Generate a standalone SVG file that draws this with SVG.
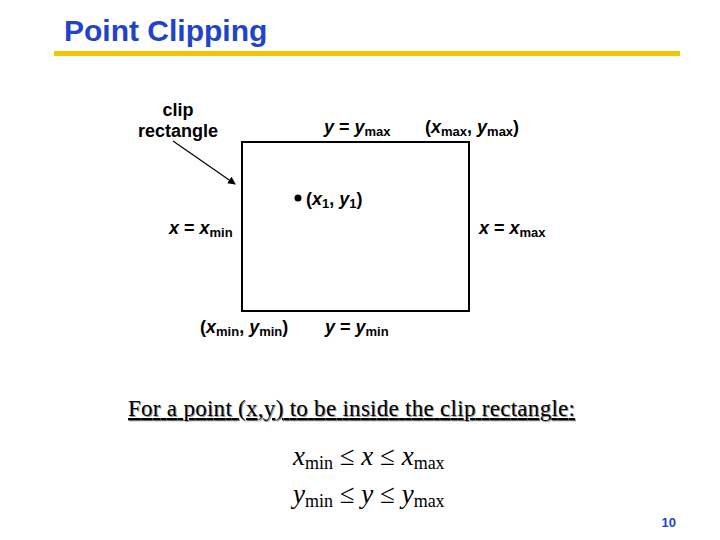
<svg xmlns="http://www.w3.org/2000/svg" width="720" height="540" viewBox="0 0 720 540">
<style>
.t{font-family:"Liberation Sans",Arial,sans-serif;font-weight:bold;font-size:18px;fill:#000}
.i{font-style:italic}
.s{font-size:13px;font-style:normal}
.m{font-family:"Liberation Serif","Times New Roman",serif;font-size:27px;font-style:italic;fill:#000}
.ms{font-size:18px;font-style:normal}
.n{font-style:normal}
</style>
<defs><marker id="ah" markerWidth="8" markerHeight="8" refX="7" refY="4" orient="auto" markerUnits="userSpaceOnUse"><path d="M0,0 L8,4 L0,8 z" fill="#000"/></marker></defs>
<rect width="720" height="540" fill="#fff"/>
<text x="64" y="41" style="font-family:'Liberation Sans',Arial,sans-serif;font-weight:bold;font-size:30px;fill:#1f44c8">Point Clipping</text>
<rect x="54" y="51" width="626" height="5" fill="#f2c500"/>
<g id="clip-rect"><rect x="242" y="142" width="227" height="169" fill="none" stroke="#000" stroke-width="2"/></g>
<g id="connectors"><line x1="173" y1="141" x2="235" y2="184" stroke="#000" stroke-width="1.2" marker-end="url(#ah)"/></g>
<g id="label-clip"><text class="t" x="178" y="116" text-anchor="middle">clip</text><text class="t" x="178" y="137" text-anchor="middle">rectangle</text></g>
<g id="label-ymax"><text class="t" x="324" y="133"><tspan class="i">y</tspan> = <tspan class="i">y</tspan><tspan class="s" dy="3">max</tspan></text></g>
<g id="label-corner-max"><text class="t" x="425" y="133">(<tspan class="i">x</tspan><tspan class="s" dy="3">max</tspan><tspan dy="-3">, </tspan><tspan class="i">y</tspan><tspan class="s" dy="3">max</tspan><tspan dy="-3">)</tspan></text></g>
<g id="point"><circle cx="298" cy="198" r="3.5" fill="#000"/><text class="t" x="306" y="205">(<tspan class="i">x</tspan><tspan class="s" dy="3">1</tspan><tspan dy="-3">, </tspan><tspan class="i">y</tspan><tspan class="s" dy="3">1</tspan><tspan dy="-3">)</tspan></text></g>
<g id="label-xmin"><text class="t" x="169" y="234"><tspan class="i">x</tspan> = <tspan class="i">x</tspan><tspan class="s" dy="3">min</tspan></text></g>
<g id="label-xmax"><text class="t" x="479" y="234"><tspan class="i">x</tspan> = <tspan class="i">x</tspan><tspan class="s" dy="3">max</tspan></text></g>
<g id="label-corner-min"><text class="t" x="200" y="333">(<tspan class="i">x</tspan><tspan class="s" dy="3">min</tspan><tspan dy="-3">, </tspan><tspan class="i">y</tspan><tspan class="s" dy="3">min</tspan><tspan dy="-3">)</tspan></text></g>
<g id="label-ymin"><text class="t" x="325" y="333"><tspan class="i">y</tspan> = <tspan class="i">y</tspan><tspan class="s" dy="3">min</tspan></text></g>
<text x="128" y="416" textLength="447" style="font-family:'Liberation Serif','Times New Roman',serif;font-size:23px;fill:#999" dx="1" dy="1" text-decoration="underline">For a point (x,y) to be inside the clip rectangle:</text>
<text x="128" y="416" textLength="447" style="font-family:'Liberation Serif','Times New Roman',serif;font-size:23px;fill:#000" text-decoration="underline">For a point (x,y) to be inside the clip rectangle:</text>
<text class="m" x="293" y="465">x<tspan class="ms" dy="4">min</tspan><tspan dy="-4" class="n">  ≤  </tspan>x<tspan class="n">  ≤  </tspan>x<tspan class="ms" dy="4">max</tspan></text>
<text class="m" x="293" y="503">y<tspan class="ms" dy="4">min</tspan><tspan dy="-4" class="n">  ≤  </tspan>y<tspan class="n">  ≤  </tspan>y<tspan class="ms" dy="4">max</tspan></text>
<text x="676" y="527" text-anchor="end" style="font-family:'Liberation Sans',Arial,sans-serif;font-weight:bold;font-size:13px;fill:#1f44c8">10</text>
</svg>
